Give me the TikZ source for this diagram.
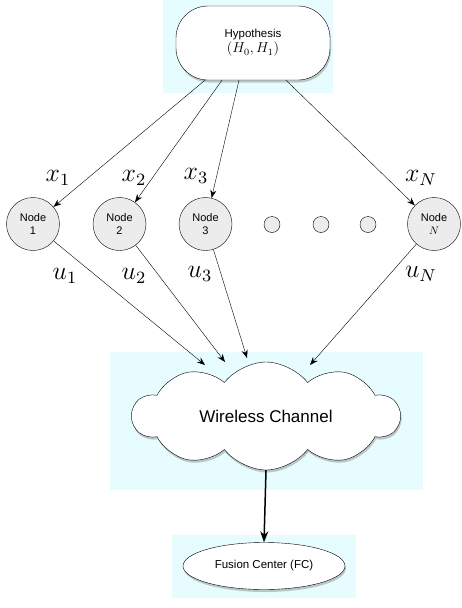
\documentclass[tikz,border=0pt]{standalone}
\usepackage{fontspec}
\setmainfont{Liberation Sans}
\usetikzlibrary{shapes.symbols,shapes.geometric,arrows.meta,calc,shadows}

\definecolor{bgblue}{RGB}{231,252,255}
\definecolor{nodegray}{RGB}{236,236,236}
\newcommand{\biglbl}[1]{\scalebox{2.15}{$#1$}}

\begin{document}
\begin{tikzpicture}[
  x=1pt,y=-1pt,
  font=\fontsize{11.5}{13}\selectfont,
  panel/.style={fill=bgblue,draw=none},
  softshadow/.style={drop shadow={shadow xshift=1pt,shadow yshift=-2.5pt,opacity=.35,fill=black!60}},
  hypbox/.style={rectangle,rounded corners=32pt,draw=black,fill=white,minimum width=154pt,minimum height=74pt,align=center,softshadow},
  sensor/.style={circle,draw=black,fill=nodegray,minimum size=53pt,inner sep=0pt,align=center,font=\fontsize{11}{13}\selectfont},
  dot/.style={circle,draw=black,fill=nodegray,minimum size=16pt,inner sep=0pt},
  channel/.style={cloud,cloud puffs=10,cloud puff arc=105,cloud ignores aspect,draw=black,fill=white,minimum width=267pt,minimum height=108pt,inner sep=0pt,font=\fontsize{17}{20}\selectfont,softshadow},
  fcbox/.style={ellipse,draw=black,fill=white,minimum width=162pt,minimum height=47pt,inner sep=0pt,softshadow},
  lbl/.style={inner sep=0pt},
  arrow/.style={-{Stealth[length=8pt,width=6pt]}},
  bigarrow/.style={-{Stealth[length=11pt,width=8pt]},line width=1.5pt}
]
\useasboundingbox (0,0) rectangle (461,608);

\fill[panel] (163,0) rectangle (333,93);
\fill[panel] (110,352) rectangle (423,490);
\fill[panel] (172,535) rectangle (356,598);

\node[hypbox] (hyp) at (253,43) {Hypothesis\\[1pt]\scalebox{1.2}{$(H_0, H_1)$}};

\node[sensor] (n1) at (33,224) {Node\\1};
\node[sensor] (n2) at (119.5,224) {Node\\2};
\node[sensor] (n3) at (205.5,224) {Node\\3};
\node[sensor] (nN) at (434,224) {Node\\$N$};
\foreach \x/\i in {272/a,321/b,368/c}
  \node[dot] (d\i) at (\x,224.5) {};

\node[channel] (chan) at (266,416) {Wireless Channel};
\node[fcbox] (fc) at (264,566) {Fusion Center (FC)};

\draw[arrow] ($(hyp.south)+(-48,0)$) -- (n1);
\draw[arrow] ($(hyp.south)+(-31,0)$) -- (n2);
\draw[arrow] ($(hyp.south)+(-14,0)$) -- (n3);
\draw[arrow] ($(hyp.south)+(33,0)$) -- (nN);

\node[lbl] (x1) at (58,178) {\biglbl{x_1}};
\node[lbl] (x2) at (134,178) {\biglbl{x_2}};
\node[lbl] (x3) at (196,176) {\biglbl{x_3}};
\node[lbl] (xN) at (421,178) {\biglbl{x_N}};
\node[lbl] (u1) at (65,276) {\biglbl{u_1}};
\node[lbl] (u2) at (134,276) {\biglbl{u_2}};
\node[lbl] (u3) at (200,274) {\biglbl{u_3}};
\node[lbl] (uN) at (421,274) {\biglbl{u_N}};

\draw[arrow] (n1) -- ($(chan.center)+(-61,-51)$);
\draw[arrow] (n2) -- ($(chan.center)+(-41,-54)$);
\draw[arrow] (n3) -- ($(chan.center)+(-19,-58)$);
\draw[arrow] (nN) -- ($(chan.center)+(44,-51)$);

\draw[bigarrow] (chan.south) -- (fc.north);
\end{tikzpicture}
\end{document}
